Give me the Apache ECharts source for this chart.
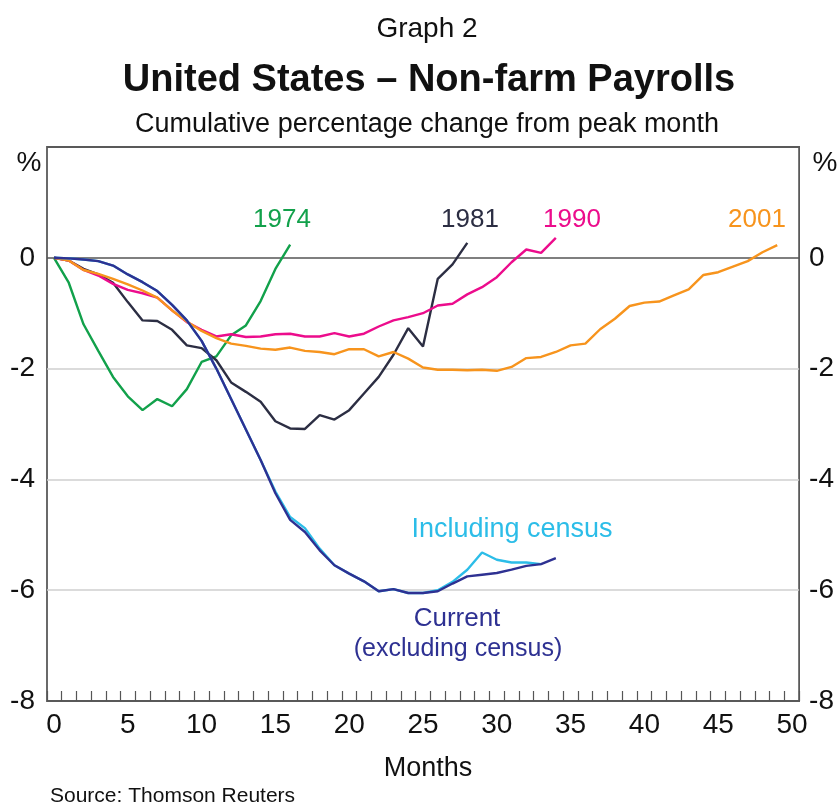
<!DOCTYPE html>
<html><head><meta charset="utf-8">
<script src="https://cdn.jsdelivr.net/npm/echarts@6/dist/echarts.min.js"></script>
<style>html,body{margin:0;padding:0;background:#fff}#c{width:837px;height:805px}</style>
</head><body><div id="c"></div>
<script>
const months = Array.from({length: 51}, (_, i) => i);
const xTickLabels = ['0','5','10','15','20','25','30','35','40','45','50'];
const yTickLabels = ['-8','-6','-4','-2','0'];
const s1974 = [0,-0.45,-1.2,-1.68,-2.15,-2.5,-2.75,-2.55,-2.68,-2.37,-1.88,-1.78,-1.4,-1.22,-0.78,-0.2,0.24];
const s1981 = [0,-0.05,-0.2,-0.3,-0.45,-0.8,-1.13,-1.14,-1.3,-1.58,-1.63,-1.85,-2.25,-2.42,-2.6,-2.95,-3.08,-3.09,-2.84,-2.92,-2.75,-2.45,-2.15,-1.75,-1.27,-1.6,-0.38,-0.12,0.27];
const s1990 = [0,-0.05,-0.22,-0.32,-0.47,-0.58,-0.64,-0.72,-0.95,-1.16,-1.3,-1.42,-1.38,-1.43,-1.42,-1.38,-1.37,-1.42,-1.42,-1.36,-1.42,-1.37,-1.24,-1.13,-1.07,-1.0,-0.86,-0.83,-0.66,-0.53,-0.35,-0.08,0.15,0.09,0.36];
const s2001 = [0,-0.05,-0.22,-0.29,-0.38,-0.48,-0.59,-0.72,-0.95,-1.15,-1.32,-1.45,-1.55,-1.59,-1.64,-1.66,-1.62,-1.68,-1.70,-1.74,-1.65,-1.65,-1.78,-1.70,-1.82,-1.98,-2.02,-2.02,-2.03,-2.02,-2.04,-1.97,-1.81,-1.79,-1.70,-1.58,-1.55,-1.29,-1.10,-0.87,-0.81,-0.79,-0.68,-0.57,-0.31,-0.26,-0.16,-0.06,0.10,0.23];
const sCurrent = [0,-0.01,-0.03,-0.06,-0.14,-0.3,-0.44,-0.6,-0.85,-1.13,-1.5,-2.0,-2.55,-3.1,-3.65,-4.25,-4.73,-4.95,-5.28,-5.55,-5.7,-5.84,-6.02,-5.98,-6.05,-6.05,-6.02,-5.88,-5.75,-5.72,-5.69,-5.63,-5.56,-5.53,-5.42];
const sCensus = [0,-0.01,-0.03,-0.06,-0.14,-0.3,-0.44,-0.6,-0.85,-1.13,-1.5,-2.0,-2.55,-3.1,-3.65,-4.22,-4.68,-4.88,-5.25,-5.55,-5.7,-5.84,-6.02,-5.98,-6.05,-6.05,-6.0,-5.85,-5.63,-5.32,-5.45,-5.5,-5.5,-5.53];

const FONT = 'Liberation Sans';
const pair = arr => arr.map((v, i) => [months[i], v]);
const C = {g:'#12a14b', k:'#2c2e43', m:'#ec0c8c', o:'#f7941d', cur:'#2e3192', cen:'#2cbde8'};
const line = (name, data, color) => ({
  name, type:'line', xAxisIndex:1, yAxisIndex:2, data: pair(data),
  showSymbol:false, symbol:'none', lineStyle:{color, width:2.4}, itemStyle:{color}, z:3, animation:false
});
const txt = (text, left, top, size, color, weight) => ({
  text, left, top, textAlign:'center',
  textStyle:{fontFamily:FONT, fontSize:size, color, fontWeight: weight || 'normal'}
});
const labelSet = new Set(xTickLabels);
const yLabelSet = new Set(yTickLabels);

const chart = echarts.init(document.getElementById('c'), null, {renderer:'canvas'});
chart.setOption({
  animation:false,
  backgroundColor:'#fff',
  title:[
    txt('Graph 2', 422, 10, 28, '#111'),
    txt('United States – Non-farm Payrolls', 424, 57, 38, '#111', 'bold'),
    txt('Cumulative percentage change from peak month', 422, 106, 27, '#111'),
    txt('%', 24, 144, 28, '#111'),
    txt('%', 820, 144, 28, '#111'),
    txt('Months', 423, 750, 27, '#111'),
    {text:'Source: Thomson Reuters', left:45, top:781, textStyle:{fontFamily:FONT, fontSize:21, color:'#111', fontWeight:'normal'}},
    txt('1974', 277, 202, 26, C.g),
    txt('1981', 465, 202, 26, C.k),
    txt('1990', 567, 202, 26, C.m),
    txt('2001', 752, 202, 26, C.o),
    txt('Including census', 507, 511, 27, C.cen),
    txt('Current', 452, 601, 26, C.cur),
    txt('(excluding census)', 453, 632, 25, C.cur)
  ],
  grid:[
    {left:47, right:36, top:147, bottom:104, show:true, borderColor:'#5a5a5a', borderWidth:1.8, backgroundColor:'transparent'},
    {left:54, right:45, top:147, bottom:104}
  ],
  xAxis:[
    {type:'value', gridIndex:0, min:-0.5, max:50.5, interval:1, position:'bottom',
     axisLine:{show:false, onZero:false},
     axisTick:{show:true, inside:true, length:10, lineStyle:{color:'#555', width:1.2}},
     axisLabel:{show:false}, splitLine:{show:false}},
    {type:'value', gridIndex:1, min:0, max:50, interval:1, position:'bottom',
     axisLine:{show:false, onZero:false},
     axisTick:{show:false},
     axisLabel:{margin:10, fontFamily:FONT, fontSize:28, color:'#111',
       formatter: v => labelSet.has(String(v)) ? String(v) : ''},
     splitLine:{show:false}}
  ],
  yAxis:[
    {type:'value', gridIndex:0, min:-8, max:2, interval:2, position:'left',
     axisLine:{show:false}, axisTick:{show:false},
     axisLabel:{margin:12, fontFamily:FONT, fontSize:28, color:'#111', formatter: v => yLabelSet.has(String(v)) ? String(v) : ''},
     splitLine:{show:true, lineStyle:{color:['#5a5a5a','#cfcfcf','#cfcfcf','#cfcfcf','#555','#5a5a5a'], width:1.6}}},
    {type:'value', gridIndex:0, min:-8, max:2, interval:2, position:'right',
     axisLine:{show:false}, axisTick:{show:false},
     axisLabel:{margin:10, fontFamily:FONT, fontSize:28, color:'#111', formatter: v => yLabelSet.has(String(v)) ? String(v) : ''},
     splitLine:{show:false}},
    {type:'value', gridIndex:1, min:-8, max:2, show:false, splitLine:{show:false}}
  ],
  series:[
    line('1974', s1974, C.g),
    line('1981', s1981, C.k),
    line('1990', s1990, C.m),
    line('2001', s2001, C.o),
    line('Including census', sCensus, C.cen),
    line('Current', sCurrent, C.cur)
  ]
});
</script></body></html>
